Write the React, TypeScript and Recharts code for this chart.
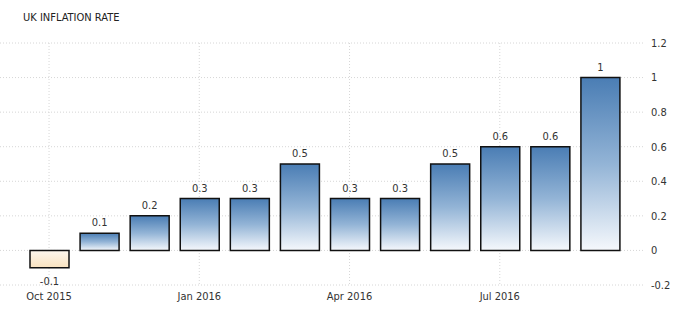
// UK inflation rate bar chart
import React from "react";
import {
  BarChart,
  Bar,
  XAxis,
  YAxis,
  CartesianGrid,
  Cell,
  LabelList,
} from "recharts";

const months = [
  "Oct 2015",
  "Nov 2015",
  "Dec 2015",
  "Jan 2016",
  "Feb 2016",
  "Mar 2016",
  "Apr 2016",
  "May 2016",
  "Jun 2016",
  "Jul 2016",
  "Aug 2016",
  "Sep 2016",
];
const rates = [-0.1, 0.1, 0.2, 0.3, 0.3, 0.5, 0.3, 0.3, 0.5, 0.6, 0.6, 1];
const yTicks = [-0.2, 0, 0.2, 0.4, 0.6, 0.8, 1, 1.2];

const data = months.map((name, i) => ({ name, rate: rates[i] }));

const FONT = "'DejaVu Sans Condensed', 'DejaVu Sans', sans-serif";

const ValueLabel = (props: any) => {
  const { x, y, width, height, value } = props;
  const top = Math.min(y, y + height);
  const bottom = Math.max(y, y + height);
  const cx = x + width / 2;
  return (
    <text
      x={cx}
      y={value < 0 ? bottom + 17 : top - 7}
      textAnchor="middle"
      fontSize={11}
      fontFamily={FONT}
      fill="#333"
    >
      {value}
    </text>
  );
};

export default function App() {
  return (
    <div
      style={{
        position: "absolute",
        left: 0,
        top: 0,
        width: 680,
        height: 311,
        background: "#fff",
      }}
    >
      <div
        style={{
          position: "absolute",
          left: 23,
          top: 11,
          fontSize: 11,
          fontFamily: FONT,
          color: "#222",
        }}
      >
        UK INFLATION RATE
      </div>
      <BarChart
        width={680}
        height={311}
        data={data}
        margin={{ top: 43, right: 0, left: 0, bottom: 0 }}
      >
        <defs>
          <linearGradient id="blueGrad" x1="0" y1="0" x2="0" y2="1">
            <stop offset="0%" stopColor="#4a7db4" />
            <stop offset="50%" stopColor="#93b4d6" />
            <stop offset="100%" stopColor="#f5f8fc" />
          </linearGradient>
          <linearGradient id="tanGrad" x1="0" y1="0" x2="0" y2="1">
            <stop offset="0%" stopColor="#fdf7ee" />
            <stop offset="100%" stopColor="#f9e2bf" />
          </linearGradient>
        </defs>
        <CartesianGrid
          stroke="#d6d6d6"
          strokeDasharray="1 2"
          syncWithTicks
        />
        <XAxis
          dataKey="name"
          interval={2}
          axisLine={false}
          tickLine={false}
          tickSize={4}
          tickMargin={3}
          height={26}
          padding={{ left: 24, right: 20 }}
          tick={{ fontSize: 11, fontFamily: FONT, fill: "#333" }}
        />
        <YAxis
          orientation="right"
          domain={[-0.2, 1.2]}
          ticks={yTicks}
          axisLine={false}
          tickLine={false}
          tickSize={4}
          tickMargin={2}
          width={35}
          tick={{ fontSize: 11, fontFamily: FONT, fill: "#333", textAnchor: "start" }}
        />
        <Bar
          dataKey="rate"
          barSize={39}
          stroke="#111"
          strokeWidth={1.5}
          isAnimationActive={false}
        >
          {data.map((entry, index) => (
            <Cell
              key={`cell-${index}`}
              fill={entry.rate < 0 ? "url(#tanGrad)" : "url(#blueGrad)"}
            />
          ))}
          <LabelList dataKey="rate" content={ValueLabel} />
        </Bar>
      </BarChart>
    </div>
  );
}
